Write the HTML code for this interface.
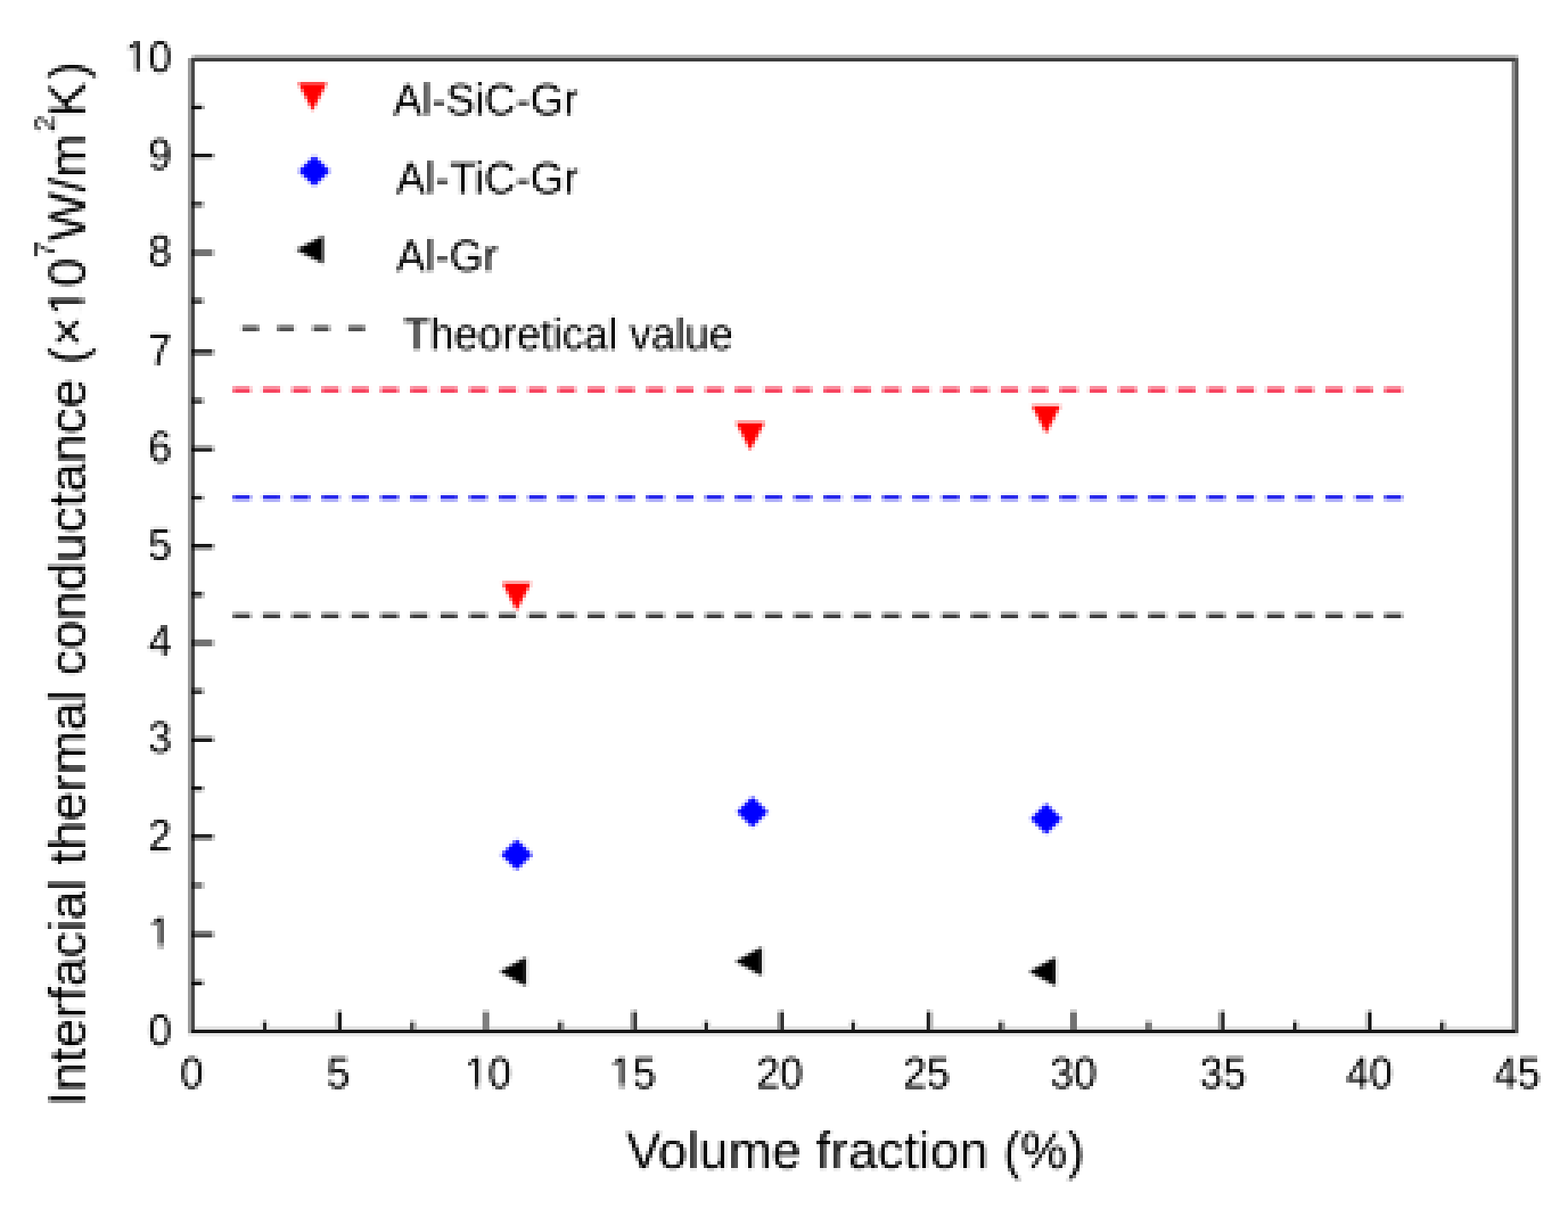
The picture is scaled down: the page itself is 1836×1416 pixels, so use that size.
<!DOCTYPE html>
<html lang="en"><head><meta charset="utf-8"><title>Interfacial thermal conductance vs volume fraction</title>
<style>
html,body{margin:0;padding:0;background:#fff;}
body{width:1836px;height:1416px;overflow:hidden;}
svg{display:block;}
text{font-family:"Liberation Sans",sans-serif;fill:#050505;}
.tk{font-size:49px;}
.lb{font-size:61px;}
.lg{font-size:51px;}
.sup{font-size:37px;}
</style></head><body>
<svg width="1836" height="1416" viewBox="0 0 1836 1416">
<defs>
<filter id="bt" filterUnits="userSpaceOnUse" x="0" y="0" width="1836" height="1416"><feGaussianBlur stdDeviation="1.3"/></filter>
<filter id="bl" filterUnits="userSpaceOnUse" x="0" y="0" width="1836" height="1416"><feGaussianBlur stdDeviation="1.0"/></filter>
<filter id="bs" filterUnits="userSpaceOnUse" x="0" y="0" width="1836" height="1416"><feGaussianBlur stdDeviation="1.5"/></filter>
<filter id="pix" filterUnits="userSpaceOnUse" primitiveUnits="userSpaceOnUse" x="0" y="0" width="1836" height="1416" color-interpolation-filters="sRGB">
<feFlood x="1" y="1" width="1" height="1" flood-color="#000" flood-opacity="1" result="dot"/>
<feComposite in="dot" in2="dot" operator="over" x="0" y="0" width="4" height="4" result="cell"/>
<feTile in="cell" x="0" y="0" width="1836" height="1416" result="grid"/>
<feComposite in="SourceGraphic" in2="grid" operator="in" result="samp"/>
<feMorphology in="samp" operator="dilate" radius="1" result="d3"/>
<feOffset in="d3" dx="1" dy="0" result="o1"/>
<feOffset in="d3" dx="0" dy="1" result="o2"/>
<feOffset in="d3" dx="1" dy="1" result="o3"/>
<feMerge><feMergeNode in="o3"/><feMergeNode in="o2"/><feMergeNode in="o1"/><feMergeNode in="d3"/></feMerge>
</filter>
</defs>
<rect width="1836" height="1416" fill="#ffffff"/>
<g filter="url(#pix)">
<rect width="1836" height="1416" fill="#ffffff"/>
<g transform="translate(-0.5,-0.5)">
<g id="ticklabels" class="tk" filter="url(#bt)">
<g transform="translate(201,1224.0) scale(1,1.04)"><text text-anchor="end">0</text></g>
<g transform="translate(201,1110.1) scale(1,1.04)"><text text-anchor="end">1</text><rect x="-24.38" y="-3.86" width="9.45" height="4.86" fill="#fff"/><rect x="-10.60" y="-3.86" width="9.19" height="4.86" fill="#fff"/></g>
<g transform="translate(201,996.0) scale(1,1.04)"><text text-anchor="end">2</text></g>
<g transform="translate(201,881.6) scale(1,1.04)"><text text-anchor="end">3</text></g>
<g transform="translate(201,768.6) scale(1,1.04)"><text text-anchor="end">4</text></g>
<g transform="translate(201,655.6) scale(1,1.04)"><text text-anchor="end">5</text></g>
<g transform="translate(201,541.4) scale(1,1.04)"><text text-anchor="end">6</text></g>
<g transform="translate(201,427.3) scale(1,1.04)"><text text-anchor="end">7</text></g>
<g transform="translate(201,311.8) scale(1,1.04)"><text text-anchor="end">8</text></g>
<g transform="translate(201,198.3) scale(1,1.04)"><text text-anchor="end">9</text></g>
<g transform="translate(201,84.6) scale(1,1.04)"><text text-anchor="end">10</text><rect x="-51.63" y="-3.86" width="9.45" height="4.86" fill="#fff"/><rect x="-37.85" y="-3.86" width="9.19" height="4.86" fill="#fff"/></g>
<g transform="translate(224.5,1274.4) scale(1,1.04)"><text text-anchor="middle">0</text></g>
<g transform="translate(396.0,1274.4) scale(1,1.04)"><text text-anchor="middle">5</text></g>
<g transform="translate(571.5,1274.4) scale(1,1.04)"><text text-anchor="middle">10</text><rect x="-24.38" y="-3.86" width="9.45" height="4.86" fill="#fff"/><rect x="-10.60" y="-3.86" width="9.19" height="4.86" fill="#fff"/></g>
<g transform="translate(741.0,1274.4) scale(1,1.04)"><text text-anchor="middle">15</text><rect x="-24.38" y="-3.86" width="9.45" height="4.86" fill="#fff"/><rect x="-10.60" y="-3.86" width="9.19" height="4.86" fill="#fff"/></g>
<g transform="translate(913.0,1274.4) scale(1,1.04)"><text text-anchor="middle">20</text></g>
<g transform="translate(1085.0,1274.4) scale(1,1.04)"><text text-anchor="middle">25</text></g>
<g transform="translate(1257.0,1274.4) scale(1,1.04)"><text text-anchor="middle">30</text></g>
<g transform="translate(1432.0,1274.4) scale(1,1.04)"><text text-anchor="middle">35</text></g>
<g transform="translate(1603.5,1274.4) scale(1,1.04)"><text text-anchor="middle">40</text></g>
<g transform="translate(1776.5,1274.4) scale(1,1.04)"><text text-anchor="middle">45</text></g>
</g>
<g id="axislabels" class="lb" filter="url(#bt)">
<text id="xlab" x="733.2" y="1368" text-anchor="start" style="letter-spacing:0.26px">Volume fraction (%)</text>
<g transform="translate(99.5,1295.5) rotate(-90)">
<text id="ylab" text-anchor="start" style="font-size:61.3px">Interfacial thermal conductance (×10<tspan style="font-size:35px" dy="-35">7</tspan><tspan dy="35">W/m</tspan><tspan style="font-size:35px" dx="2" dy="-35">2</tspan><tspan dx="-2" dy="35">K</tspan><tspan dx="4">)</tspan></text>
<rect x="928.64" y="-4.78" width="11.82" height="5.78" fill="#fff"/><rect x="945.88" y="-4.78" width="11.49" height="5.78" fill="#fff"/>
</g>
</g>
<g id="theory" filter="url(#bl)" fill="none">
<path d="M273.0 456.6 H293.5 M307.6 456.6 H328.1 M342.1 456.6 H362.6 M376.7 456.6 H397.2 M411.3 456.6 H431.8 M445.9 456.6 H466.4 M480.4 456.6 H500.9 M515.0 456.6 H535.5 M549.6 456.6 H570.1 M584.1 456.6 H604.6 M618.7 456.6 H639.2 M653.3 456.6 H673.8 M687.8 456.6 H708.3 M722.4 456.6 H742.9 M757.0 456.6 H777.5 M791.5 456.6 H812.0 M826.1 456.6 H846.6 M860.7 456.6 H881.2 M895.3 456.6 H915.8 M929.8 456.6 H950.3 M964.4 456.6 H984.9 M999.0 456.6 H1019.5 M1033.5 456.6 H1054.0 M1068.1 456.6 H1088.6 M1102.7 456.6 H1123.2 M1137.2 456.6 H1157.8 M1171.8 456.6 H1192.3 M1206.4 456.6 H1226.9 M1241.0 456.6 H1261.5 M1275.5 456.6 H1296.0 M1310.1 456.6 H1330.6 M1344.7 456.6 H1365.2 M1379.2 456.6 H1399.7 M1413.8 456.6 H1434.3 M1448.4 456.6 H1468.9 M1483.0 456.6 H1503.5 M1517.5 456.6 H1538.0 M1552.1 456.6 H1572.6 M1586.7 456.6 H1607.2 M1621.2 456.6 H1641.7" stroke="#f51e3c" stroke-width="5.4"/>
<path d="M273.0 582.7 H293.5 M307.6 582.7 H328.1 M342.1 582.7 H362.6 M376.7 582.7 H397.2 M411.3 582.7 H431.8 M445.9 582.7 H466.4 M480.4 582.7 H500.9 M515.0 582.7 H535.5 M549.6 582.7 H570.1 M584.1 582.7 H604.6 M618.7 582.7 H639.2 M653.3 582.7 H673.8 M687.8 582.7 H708.3 M722.4 582.7 H742.9 M757.0 582.7 H777.5 M791.5 582.7 H812.0 M826.1 582.7 H846.6 M860.7 582.7 H881.2 M895.3 582.7 H915.8 M929.8 582.7 H950.3 M964.4 582.7 H984.9 M999.0 582.7 H1019.5 M1033.5 582.7 H1054.0 M1068.1 582.7 H1088.6 M1102.7 582.7 H1123.2 M1137.2 582.7 H1157.8 M1171.8 582.7 H1192.3 M1206.4 582.7 H1226.9 M1241.0 582.7 H1261.5 M1275.5 582.7 H1296.0 M1310.1 582.7 H1330.6 M1344.7 582.7 H1365.2 M1379.2 582.7 H1399.7 M1413.8 582.7 H1434.3 M1448.4 582.7 H1468.9 M1483.0 582.7 H1503.5 M1517.5 582.7 H1538.0 M1552.1 582.7 H1572.6 M1586.7 582.7 H1607.2 M1621.2 582.7 H1641.7" stroke="#1e1eeb" stroke-width="5.4"/>
<path d="M273.0 720.9 H293.5 M307.6 720.9 H328.1 M342.1 720.9 H362.6 M376.7 720.9 H397.2 M411.3 720.9 H431.8 M445.9 720.9 H466.4 M480.4 720.9 H500.9 M515.0 720.9 H535.5 M549.6 720.9 H570.1 M584.1 720.9 H604.6 M618.7 720.9 H639.2 M653.3 720.9 H673.8 M687.8 720.9 H708.3 M722.4 720.9 H742.9 M757.0 720.9 H777.5 M791.5 720.9 H812.0 M826.1 720.9 H846.6 M860.7 720.9 H881.2 M895.3 720.9 H915.8 M929.8 720.9 H950.3 M964.4 720.9 H984.9 M999.0 720.9 H1019.5 M1033.5 720.9 H1054.0 M1068.1 720.9 H1088.6 M1102.7 720.9 H1123.2 M1137.2 720.9 H1157.8 M1171.8 720.9 H1192.3 M1206.4 720.9 H1226.9 M1241.0 720.9 H1261.5 M1275.5 720.9 H1296.0 M1310.1 720.9 H1330.6 M1344.7 720.9 H1365.2 M1379.2 720.9 H1399.7 M1413.8 720.9 H1434.3 M1448.4 720.9 H1468.9 M1483.0 720.9 H1503.5 M1517.5 720.9 H1538.0 M1552.1 720.9 H1572.6 M1586.7 720.9 H1607.2 M1621.2 720.9 H1641.7" stroke="#222222" stroke-width="5"/>
<path d="M283.5 384.4 H303.0 M324.9 384.4 H344.4 M366.3 384.4 H385.8 M407.7 384.4 H427.2" stroke="#222222" stroke-width="5"/>
</g>
<g id="markers" filter="url(#bs)">
<path d="M349.0 97.0 L383.0 97.0 L366.0 130.0 Z" fill="#ff0000"/>
<path d="M368.0 182.3 L386.5 200.3 L368.0 218.3 L349.5 200.3 Z" fill="#0000ff"/>
<path d="M346.5 292.5 L378.5 276.0 L378.5 309.0 Z" fill="#000000"/>
<path d="M588.0 682.5 L622.0 682.5 L605.0 715.5 Z" fill="#ff0000"/>
<path d="M861.5 494.5 L895.5 494.5 L878.5 527.5 Z" fill="#ff0000"/>
<path d="M1208.0 475.0 L1242.0 475.0 L1225.0 508.0 Z" fill="#ff0000"/>
<path d="M605.0 983.0 L623.5 1001.0 L605.0 1019.0 L586.5 1001.0 Z" fill="#0000ff"/>
<path d="M881.0 933.0 L899.5 951.0 L881.0 969.0 L862.5 951.0 Z" fill="#0000ff"/>
<path d="M1225.0 941.0 L1243.5 959.0 L1225.0 977.0 L1206.5 959.0 Z" fill="#0000ff"/>
<path d="M585.0 1138.0 L616.0 1121.0 L616.0 1155.0 Z" fill="#000000"/>
<path d="M861.0 1126.0 L892.0 1109.0 L892.0 1143.0 Z" fill="#000000"/>
<path d="M1205.0 1138.0 L1236.0 1121.0 L1236.0 1155.0 Z" fill="#000000"/>
</g>
<g id="legend" class="lg" filter="url(#bt)">
<text x="460.5" y="134" textLength="216.5" lengthAdjust="spacingAndGlyphs">Al-SiC-Gr</text>
<text x="464" y="226">Al-TiC-Gr</text>
<text x="464" y="317">Al-Gr</text>
<text x="472.5" y="409" textLength="386" lengthAdjust="spacingAndGlyphs">Theoretical value</text>
</g>
</g>
</g>
<g id="frame" shape-rendering="crispEdges">
<rect x="228" y="1202" width="1542" height="4" fill="#e2e2e2"/>
<rect x="220" y="1210" width="1558" height="4" fill="#e8e8e8"/>
<rect x="220" y="68" width="4" height="1142" fill="#9e9e9e"/>
<rect x="224" y="72" width="4" height="1134" fill="#484848"/>
<rect x="224" y="64" width="4" height="4" fill="#cccccc"/>
<rect x="228" y="64" width="1546" height="4" fill="#adadad"/>
<rect x="1774" y="64" width="4" height="4" fill="#bdbdbd"/>
<rect x="224" y="68" width="1550" height="4" fill="#3c3c3c"/>
<rect x="1770" y="72" width="4" height="1134" fill="#8a8a8a"/>
<rect x="1774" y="68" width="4" height="1142" fill="#585858"/>
<rect x="224" y="1206" width="1550" height="4" fill="#161616"/>
</g>
<g id="ticks" shape-rendering="crispEdges">
<rect x="228" y="120" width="8" height="4" fill="#d9d9d9"/>
<rect x="236" y="120" width="4" height="4" fill="#f0f0f0"/>
<rect x="228" y="124" width="8" height="4" fill="#191919"/>
<rect x="236" y="124" width="4" height="4" fill="#a3a3a3"/>
<rect x="224" y="124" width="4" height="4" fill="#070707"/>
<rect x="228" y="180" width="20" height="4" fill="#191919"/>
<rect x="248" y="180" width="4" height="4" fill="#a3a3a3"/>
<rect x="224" y="180" width="4" height="4" fill="#070707"/>
<rect x="228" y="184" width="20" height="4" fill="#d9d9d9"/>
<rect x="248" y="184" width="4" height="4" fill="#f0f0f0"/>
<rect x="228" y="236" width="8" height="4" fill="#4d4d4d"/>
<rect x="236" y="236" width="4" height="4" fill="#b8b8b8"/>
<rect x="224" y="236" width="4" height="4" fill="#161616"/>
<rect x="228" y="240" width="8" height="4" fill="#999999"/>
<rect x="236" y="240" width="4" height="4" fill="#d6d6d6"/>
<rect x="224" y="240" width="4" height="4" fill="#2b2b2b"/>
<rect x="228" y="292" width="20" height="4" fill="#737373"/>
<rect x="248" y="292" width="4" height="4" fill="#c7c7c7"/>
<rect x="224" y="292" width="4" height="4" fill="#202020"/>
<rect x="228" y="296" width="20" height="4" fill="#737373"/>
<rect x="248" y="296" width="4" height="4" fill="#c7c7c7"/>
<rect x="224" y="296" width="4" height="4" fill="#202020"/>
<rect x="228" y="348" width="8" height="4" fill="#808080"/>
<rect x="236" y="348" width="4" height="4" fill="#cccccc"/>
<rect x="224" y="348" width="4" height="4" fill="#242424"/>
<rect x="228" y="352" width="8" height="4" fill="#4d4d4d"/>
<rect x="236" y="352" width="4" height="4" fill="#b8b8b8"/>
<rect x="224" y="352" width="4" height="4" fill="#161616"/>
<rect x="228" y="409" width="20" height="4" fill="#333333"/>
<rect x="248" y="409" width="4" height="4" fill="#adadad"/>
<rect x="224" y="409" width="4" height="4" fill="#0e0e0e"/>
<rect x="228" y="413" width="20" height="4" fill="#808080"/>
<rect x="248" y="413" width="4" height="4" fill="#cccccc"/>
<rect x="224" y="413" width="4" height="4" fill="#242424"/>
<rect x="228" y="465" width="8" height="4" fill="#808080"/>
<rect x="236" y="465" width="4" height="4" fill="#cccccc"/>
<rect x="224" y="465" width="4" height="4" fill="#242424"/>
<rect x="228" y="469" width="8" height="4" fill="#4d4d4d"/>
<rect x="236" y="469" width="4" height="4" fill="#b8b8b8"/>
<rect x="224" y="469" width="4" height="4" fill="#161616"/>
<rect x="228" y="521" width="20" height="4" fill="#a6a6a6"/>
<rect x="248" y="521" width="4" height="4" fill="#dbdbdb"/>
<rect x="224" y="521" width="4" height="4" fill="#2f2f2f"/>
<rect x="228" y="525" width="20" height="4" fill="#262626"/>
<rect x="248" y="525" width="4" height="4" fill="#a8a8a8"/>
<rect x="224" y="525" width="4" height="4" fill="#0b0b0b"/>
<rect x="228" y="577" width="8" height="4" fill="#e6e6e6"/>
<rect x="236" y="577" width="4" height="4" fill="#f5f5f5"/>
<rect x="228" y="581" width="8" height="4" fill="#262626"/>
<rect x="236" y="581" width="4" height="4" fill="#a8a8a8"/>
<rect x="224" y="581" width="4" height="4" fill="#0b0b0b"/>
<rect x="228" y="585" width="8" height="4" fill="#e6e6e6"/>
<rect x="236" y="585" width="4" height="4" fill="#f5f5f5"/>
<rect x="228" y="637" width="20" height="4" fill="#191919"/>
<rect x="248" y="637" width="4" height="4" fill="#a3a3a3"/>
<rect x="224" y="637" width="4" height="4" fill="#070707"/>
<rect x="228" y="641" width="20" height="4" fill="#a6a6a6"/>
<rect x="248" y="641" width="4" height="4" fill="#dbdbdb"/>
<rect x="224" y="641" width="4" height="4" fill="#2f2f2f"/>
<rect x="228" y="693" width="8" height="4" fill="#333333"/>
<rect x="236" y="693" width="4" height="4" fill="#adadad"/>
<rect x="224" y="693" width="4" height="4" fill="#0e0e0e"/>
<rect x="228" y="697" width="8" height="4" fill="#8c8c8c"/>
<rect x="236" y="697" width="4" height="4" fill="#d1d1d1"/>
<rect x="224" y="697" width="4" height="4" fill="#282828"/>
<rect x="228" y="749" width="20" height="4" fill="#737373"/>
<rect x="248" y="749" width="4" height="4" fill="#c7c7c7"/>
<rect x="224" y="749" width="4" height="4" fill="#202020"/>
<rect x="228" y="753" width="20" height="4" fill="#737373"/>
<rect x="248" y="753" width="4" height="4" fill="#c7c7c7"/>
<rect x="224" y="753" width="4" height="4" fill="#202020"/>
<rect x="228" y="805" width="8" height="4" fill="#8c8c8c"/>
<rect x="236" y="805" width="4" height="4" fill="#d1d1d1"/>
<rect x="224" y="805" width="4" height="4" fill="#282828"/>
<rect x="228" y="809" width="8" height="4" fill="#404040"/>
<rect x="236" y="809" width="4" height="4" fill="#b2b2b2"/>
<rect x="224" y="809" width="4" height="4" fill="#121212"/>
<rect x="228" y="861" width="20" height="4" fill="#b2b2b2"/>
<rect x="248" y="861" width="4" height="4" fill="#e0e0e0"/>
<rect x="228" y="865" width="20" height="4" fill="#191919"/>
<rect x="248" y="865" width="4" height="4" fill="#a3a3a3"/>
<rect x="224" y="865" width="4" height="4" fill="#070707"/>
<rect x="228" y="921" width="8" height="4" fill="#191919"/>
<rect x="236" y="921" width="4" height="4" fill="#a3a3a3"/>
<rect x="224" y="921" width="4" height="4" fill="#070707"/>
<rect x="228" y="925" width="8" height="4" fill="#cccccc"/>
<rect x="236" y="925" width="4" height="4" fill="#ebebeb"/>
<rect x="228" y="977" width="20" height="4" fill="#262626"/>
<rect x="248" y="977" width="4" height="4" fill="#a8a8a8"/>
<rect x="224" y="977" width="4" height="4" fill="#0b0b0b"/>
<rect x="228" y="981" width="20" height="4" fill="#999999"/>
<rect x="248" y="981" width="4" height="4" fill="#d6d6d6"/>
<rect x="224" y="981" width="4" height="4" fill="#2b2b2b"/>
<rect x="228" y="1033" width="8" height="4" fill="#808080"/>
<rect x="236" y="1033" width="4" height="4" fill="#cccccc"/>
<rect x="224" y="1033" width="4" height="4" fill="#242424"/>
<rect x="228" y="1037" width="8" height="4" fill="#808080"/>
<rect x="236" y="1037" width="4" height="4" fill="#cccccc"/>
<rect x="224" y="1037" width="4" height="4" fill="#242424"/>
<rect x="228" y="1090" width="20" height="4" fill="#808080"/>
<rect x="248" y="1090" width="4" height="4" fill="#cccccc"/>
<rect x="224" y="1090" width="4" height="4" fill="#242424"/>
<rect x="228" y="1094" width="20" height="4" fill="#4d4d4d"/>
<rect x="248" y="1094" width="4" height="4" fill="#b8b8b8"/>
<rect x="224" y="1094" width="4" height="4" fill="#161616"/>
<rect x="228" y="1146" width="8" height="4" fill="#b2b2b2"/>
<rect x="236" y="1146" width="4" height="4" fill="#e0e0e0"/>
<rect x="228" y="1150" width="8" height="4" fill="#191919"/>
<rect x="236" y="1150" width="4" height="4" fill="#a3a3a3"/>
<rect x="224" y="1150" width="4" height="4" fill="#070707"/>
<rect x="304" y="1198" width="4" height="8" fill="#e6e6e6"/>
<rect x="304" y="1194" width="4" height="4" fill="#f6f6f6"/>
<rect x="308" y="1198" width="4" height="8" fill="#262626"/>
<rect x="308" y="1194" width="4" height="4" fill="#b3b3b3"/>
<rect x="312" y="1198" width="4" height="8" fill="#e6e6e6"/>
<rect x="312" y="1194" width="4" height="4" fill="#f6f6f6"/>
<rect x="392" y="1186" width="4" height="20" fill="#cccccc"/>
<rect x="392" y="1182" width="4" height="4" fill="#ededed"/>
<rect x="396" y="1186" width="4" height="20" fill="#191919"/>
<rect x="396" y="1182" width="4" height="4" fill="#afafaf"/>
<rect x="480" y="1198" width="4" height="8" fill="#4d4d4d"/>
<rect x="480" y="1194" width="4" height="4" fill="#c1c1c1"/>
<rect x="484" y="1198" width="4" height="8" fill="#b2b2b2"/>
<rect x="484" y="1194" width="4" height="4" fill="#e4e4e4"/>
<rect x="565" y="1186" width="4" height="20" fill="#808080"/>
<rect x="565" y="1182" width="4" height="4" fill="#d2d2d2"/>
<rect x="569" y="1186" width="4" height="20" fill="#808080"/>
<rect x="569" y="1182" width="4" height="4" fill="#d2d2d2"/>
<rect x="653" y="1198" width="4" height="8" fill="#404040"/>
<rect x="653" y="1194" width="4" height="4" fill="#bcbcbc"/>
<rect x="657" y="1198" width="4" height="8" fill="#999999"/>
<rect x="657" y="1194" width="4" height="4" fill="#dbdbdb"/>
<rect x="738" y="1186" width="4" height="20" fill="#999999"/>
<rect x="738" y="1182" width="4" height="4" fill="#dbdbdb"/>
<rect x="742" y="1186" width="4" height="20" fill="#404040"/>
<rect x="742" y="1182" width="4" height="4" fill="#bcbcbc"/>
<rect x="821" y="1198" width="4" height="8" fill="#e6e6e6"/>
<rect x="821" y="1194" width="4" height="4" fill="#f6f6f6"/>
<rect x="825" y="1198" width="4" height="8" fill="#262626"/>
<rect x="825" y="1194" width="4" height="4" fill="#b3b3b3"/>
<rect x="829" y="1198" width="4" height="8" fill="#e6e6e6"/>
<rect x="829" y="1194" width="4" height="4" fill="#f6f6f6"/>
<rect x="910" y="1186" width="4" height="20" fill="#999999"/>
<rect x="910" y="1182" width="4" height="4" fill="#dbdbdb"/>
<rect x="914" y="1186" width="4" height="20" fill="#333333"/>
<rect x="914" y="1182" width="4" height="4" fill="#b8b8b8"/>
<rect x="993" y="1198" width="4" height="8" fill="#e6e6e6"/>
<rect x="993" y="1194" width="4" height="4" fill="#f6f6f6"/>
<rect x="997" y="1198" width="4" height="8" fill="#262626"/>
<rect x="997" y="1194" width="4" height="4" fill="#b3b3b3"/>
<rect x="1001" y="1198" width="4" height="8" fill="#e6e6e6"/>
<rect x="1001" y="1194" width="4" height="4" fill="#f6f6f6"/>
<rect x="1085" y="1186" width="4" height="20" fill="#262626"/>
<rect x="1085" y="1182" width="4" height="4" fill="#b3b3b3"/>
<rect x="1089" y="1186" width="4" height="20" fill="#bfbfbf"/>
<rect x="1089" y="1182" width="4" height="4" fill="#e9e9e9"/>
<rect x="1169" y="1198" width="4" height="8" fill="#404040"/>
<rect x="1169" y="1194" width="4" height="4" fill="#bcbcbc"/>
<rect x="1173" y="1198" width="4" height="8" fill="#999999"/>
<rect x="1173" y="1194" width="4" height="4" fill="#dbdbdb"/>
<rect x="1253" y="1186" width="4" height="20" fill="#737373"/>
<rect x="1253" y="1182" width="4" height="4" fill="#cecece"/>
<rect x="1257" y="1186" width="4" height="20" fill="#737373"/>
<rect x="1257" y="1182" width="4" height="4" fill="#cecece"/>
<rect x="1341" y="1198" width="4" height="8" fill="#737373"/>
<rect x="1341" y="1194" width="4" height="4" fill="#cecece"/>
<rect x="1345" y="1198" width="4" height="8" fill="#808080"/>
<rect x="1345" y="1194" width="4" height="4" fill="#d2d2d2"/>
<rect x="1426" y="1186" width="4" height="20" fill="#a6a6a6"/>
<rect x="1426" y="1182" width="4" height="4" fill="#e0e0e0"/>
<rect x="1430" y="1186" width="4" height="20" fill="#333333"/>
<rect x="1430" y="1182" width="4" height="4" fill="#b8b8b8"/>
<rect x="1514" y="1198" width="4" height="8" fill="#262626"/>
<rect x="1514" y="1194" width="4" height="4" fill="#b3b3b3"/>
<rect x="1518" y="1198" width="4" height="8" fill="#cccccc"/>
<rect x="1518" y="1194" width="4" height="4" fill="#ededed"/>
<rect x="1598" y="1186" width="4" height="20" fill="#cccccc"/>
<rect x="1598" y="1182" width="4" height="4" fill="#ededed"/>
<rect x="1602" y="1186" width="4" height="20" fill="#191919"/>
<rect x="1602" y="1182" width="4" height="4" fill="#afafaf"/>
<rect x="1686" y="1198" width="4" height="8" fill="#333333"/>
<rect x="1686" y="1194" width="4" height="4" fill="#b8b8b8"/>
<rect x="1690" y="1198" width="4" height="8" fill="#b2b2b2"/>
<rect x="1690" y="1194" width="4" height="4" fill="#e4e4e4"/>
</g>
</svg>
</body></html>
